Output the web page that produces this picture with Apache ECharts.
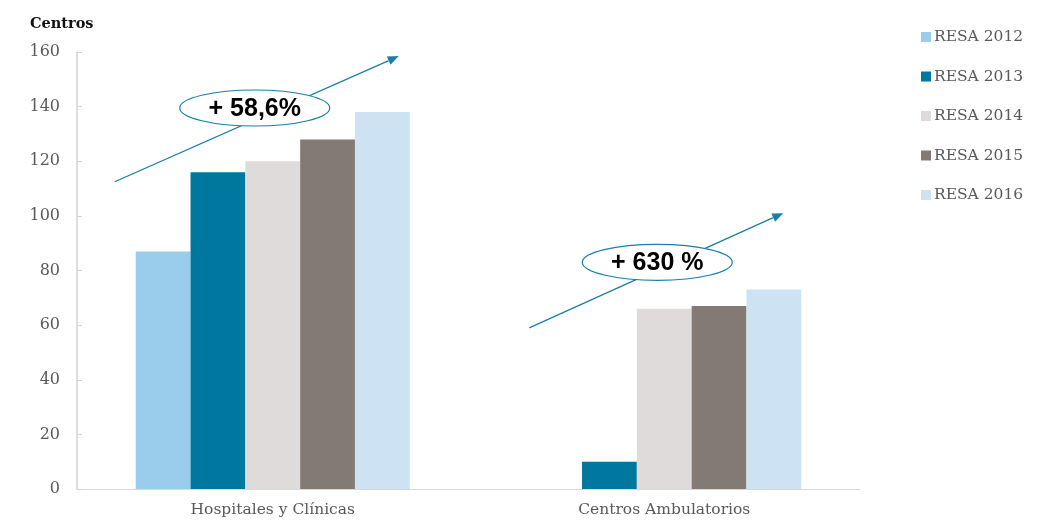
<!DOCTYPE html>
<html>
<head>
<meta charset="utf-8">
<script src="https://cdn.jsdelivr.net/npm/echarts@6/dist/echarts.min.js"></script>
<style>
  html, body { margin: 0; padding: 0; background: #fff; }
  #chart { width: 1056px; height: 522px; }
</style>
</head>
<body>
<div id="chart"></div>
<script>
// Categories and series (number of centres per RESA report year)
const categories = ['Hospitales y Clínicas', 'Centros Ambulatorios'];
const years = ['RESA 2012', 'RESA 2013', 'RESA 2014', 'RESA 2015', 'RESA 2016'];
const resa2012 = [87, null];
const resa2013 = [116, 10];
const resa2014 = [120, 66];
const resa2015 = [128, 67];
const resa2016 = [138, 73];
const yTicks = [0, 20, 40, 60, 80, 100, 120, 140, 160];
const growthLabels = ['+ 58,6%', '+ 630 %'];

const colors = ['#99cdeb', '#00779f', '#e0dbdb', '#847a75', '#cde3f3'];
const serif = 'DejaVu Serif';
const arrowColor = '#1a7fa8';

const chart = echarts.init(document.getElementById('chart'));

const seriesData = [resa2012, resa2013, resa2014, resa2015, resa2016];

chart.setOption({
  animation: false,
  color: colors,
  title: {
    text: 'Centros',
    left: 25,
    top: 12,
    textStyle: { fontFamily: serif, fontWeight: 'bold', fontSize: 14.5, color: '#111' }
  },
  legend: {
    orient: 'vertical',
    left: 916,
    top: 23,
    itemWidth: 10,
    itemHeight: 10,
    itemGap: 21.5,
    icon: 'rect',
    data: years,
    textStyle: { fontFamily: serif, fontSize: 15.5, color: '#595959', lineHeight: 18, padding: [0, 0, 0, -2] }
  },
  grid: { left: 77, right: 196, top: 52, bottom: 33 },
  xAxis: {
    type: 'category',
    data: categories,
    axisLine: { lineStyle: { color: '#d9d9d9', width: 1 } },
    axisTick: { show: false },
    axisLabel: { fontFamily: serif, fontSize: 15.5, color: '#595959', margin: 13 }
  },
  yAxis: {
    type: 'value',
    min: yTicks[0],
    max: yTicks[yTicks.length - 1],
    interval: yTicks[1] - yTicks[0],
    axisLine: { show: true, lineStyle: { color: '#d6d0d0', width: 1.5 } },
    axisTick: { show: true, inside: true, length: 5, lineStyle: { color: '#d6d0d0' } },
    splitLine: { show: false },
    axisLabel: { fontFamily: serif, fontSize: 16, color: '#595959', margin: 17 }
  },
  series: seriesData.map((d, i) => ({
    name: years[i],
    type: 'bar',
    data: d,
    barGap: '0%',
    barCategoryGap: '30%'
  }))
});

// Growth arrows with ellipse callouts, positioned relative to the grid
function arrowGraphic(x1, y1, x2, y2, cx, cy, text) {
  const ang = Math.atan2(y2 - y1, x2 - x1);
  const len = 11, half = 4.5;
  const bx = x2 - len * Math.cos(ang), by = y2 - len * Math.sin(ang);
  const px = -Math.sin(ang) * half, py = Math.cos(ang) * half;
  return [
    { type: 'line', z: 10, shape: { x1, y1, x2: bx, y2: by },
      style: { stroke: arrowColor, lineWidth: 1.3 } },
    { type: 'polygon', z: 10, shape: { points: [[x2, y2], [bx + px, by + py], [bx - px, by - py]] },
      style: { fill: arrowColor } },
    { type: 'ellipse', z: 11, shape: { cx, cy, rx: 75, ry: 18 },
      style: { fill: '#fff', stroke: arrowColor, lineWidth: 1.2 } },
    { type: 'text', z: 12, x: cx, y: cy + 1,
      style: { text, fill: '#000', font: 'bold 25px "Liberation Sans", Arial, sans-serif',
               align: 'center', verticalAlign: 'middle' } }
  ];
}

const c0 = chart.convertToPixel({ xAxisIndex: 0 }, categories[0]);
const c1 = chart.convertToPixel({ xAxisIndex: 0 }, categories[1]);
const yPx = v => chart.convertToPixel({ yAxisIndex: 0 }, v);

chart.setOption({
  graphic: [
    ...arrowGraphic(c0 - 158, yPx(112.5), c0 + 126, yPx(158.5), c0 - 18, yPx(139.5), growthLabels[0]),
    ...arrowGraphic(c1 - 135, yPx(59), c1 + 119, yPx(101), c1 - 7, yPx(83), growthLabels[1])
  ]
});
</script>
</body>
</html>
